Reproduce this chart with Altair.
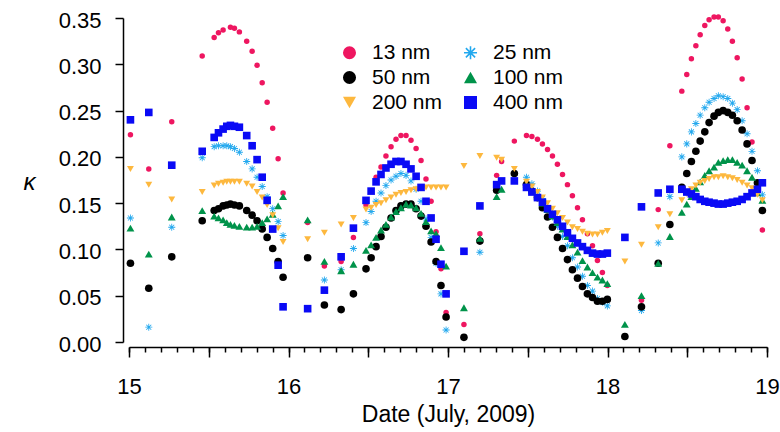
import altair as alt
import pandas as pd

# Measurement times (day of July 2009), shared by all size classes
TIMES = [15.009, 15.124, 15.268, 15.459,
         15.534, 15.561, 15.590, 15.613, 15.636, 15.661, 15.692, 15.738, 15.772, 15.803, 15.835, 15.866, 15.901, 15.935, 15.966,
         16.120, 16.225, 16.330, 16.407,
         16.486, 16.518, 16.549, 16.580, 16.611, 16.643, 16.674, 16.705, 16.737, 16.768, 16.800, 16.831, 16.862, 16.894, 16.925, 16.956, 16.988,
         17.100, 17.200, 17.305, 17.336, 17.416,
         17.492, 17.526, 17.561, 17.592, 17.624, 17.655, 17.686, 17.718, 17.749, 17.780, 17.812, 17.843, 17.874, 17.906, 17.937, 17.968, 17.999,
         18.109, 18.213, 18.318, 18.391,
         18.466, 18.497, 18.526, 18.554, 18.581, 18.610, 18.637, 18.668, 18.695, 18.725, 18.754, 18.783, 18.813, 18.844, 18.875, 18.906, 18.940, 18.971]

K13 = [0.224, 0.187, 0.238, 0.309,
       0.329, 0.334, 0.337, None, 0.340, 0.339, 0.335, 0.325, 0.314, 0.299, 0.280, 0.259, 0.231, 0.198, 0.161,
       0.129, 0.082, 0.087, 0.113,
       0.148, 0.163, 0.178, 0.189, 0.201, 0.211, 0.219, 0.223, 0.223, 0.218, 0.209, 0.196, 0.176, 0.152, 0.119, 0.079, 0.032,
       0.019, 0.117, 0.180, 0.195, 0.217,
       0.223, 0.222, 0.219, 0.214, 0.208, 0.201, 0.192, 0.181, 0.170, 0.158, 0.145, 0.132, 0.117, 0.104, 0.088, 0.075, 0.061,
       None, 0.045, 0.143, 0.212,
       0.271, 0.289, 0.306, 0.320, 0.332, 0.342, 0.348, 0.351, 0.351, 0.347, 0.338, 0.325, 0.307, 0.284, 0.253, 0.216, 0.170, 0.121]

K25 = [0.134, 0.016, 0.124, 0.199,
       0.211, 0.212, 0.212, 0.212, 0.211, 0.209, 0.205, 0.195, 0.187, 0.178, 0.168, 0.157, 0.144, 0.130, 0.115,
       None, 0.067, 0.078, 0.101,
       0.129, 0.141, 0.152, 0.161, 0.169, 0.175, 0.179, 0.182, 0.180, 0.174, 0.165, 0.152, 0.133, 0.113, 0.085, 0.052, 0.013,
       None, 0.097, None, None, None,
       0.178, 0.171, 0.163, 0.155, 0.145, 0.135, 0.125, 0.114, 0.104, 0.091, 0.081, 0.071, 0.061, 0.055, 0.047, 0.043, 0.039,
       None, 0.034, 0.107, 0.157,
       0.200, 0.214, 0.227, 0.236, 0.245, 0.253, 0.259, 0.263, 0.266, 0.265, 0.263, 0.258, 0.251, 0.239, 0.225, 0.206, 0.185, 0.159]

K50 = [0.085, 0.058, 0.092, 0.131,
       0.142, 0.144, 0.147, 0.148, 0.149, 0.148, 0.147, 0.142, 0.137, 0.131, 0.122, 0.113, 0.101, 0.087, 0.070,
       0.091, 0.040, 0.035, 0.052,
       0.079, 0.091, 0.103, 0.114, 0.124, 0.134, 0.142, 0.147, 0.149, 0.149, 0.144, 0.136, 0.125, 0.108, 0.087, 0.061, 0.027,
       0.005, 0.109, 0.164, None, 0.182,
       0.170, 0.163, 0.156, 0.145, 0.135, 0.124, 0.113, 0.101, 0.089, 0.078, 0.069, 0.060, 0.052, 0.048, 0.044, 0.044, 0.046,
       0.006, 0.038, 0.085, 0.127,
       0.167, 0.182, 0.195, 0.206, 0.217, 0.227, 0.237, 0.244, 0.248, 0.250, 0.248, 0.245, 0.239, 0.229, 0.214, 0.196, 0.172, 0.142]

K100 = [0.123, 0.095, 0.135, 0.142,
        0.136, 0.134, 0.132, 0.129, 0.127, 0.126, 0.125, 0.124, 0.124, 0.125, 0.129, 0.133, 0.138, 0.147, 0.157,
        0.132, 0.087, 0.077, 0.084,
        0.099, 0.105, 0.113, 0.121, 0.127, 0.135, 0.141, 0.145, 0.149, 0.148, 0.145, 0.139, 0.130, 0.120, 0.117, 0.102, 0.082,
        0.037, 0.112, 0.157, 0.165, None,
        0.170, 0.164, 0.157, 0.150, 0.143, 0.136, 0.129, 0.122, 0.114, 0.105, 0.097, 0.088, 0.081, 0.075, 0.070, 0.067, 0.063,
        0.019, 0.050, 0.085, 0.114,
        0.140, 0.149, 0.157, 0.166, 0.173, 0.180, 0.185, 0.189, 0.194, 0.196, 0.197, 0.197, 0.194, 0.191, 0.185, 0.178, 0.161, 0.153]

K200 = [0.187, 0.170, 0.154, 0.162,
        0.169, 0.171, 0.172, 0.173, 0.173, 0.173, 0.173, 0.171, 0.168, 0.162, 0.156, 0.148, 0.137, 0.123, 0.108,
        0.111, 0.118, 0.127, 0.134,
        0.143, 0.145, 0.148, 0.150, 0.153, 0.156, 0.159, 0.161, 0.162, 0.164, 0.165, 0.167, 0.167, 0.167, 0.167, 0.167, 0.167,
        0.190, 0.201, 0.199, 0.197, 0.187,
        0.173, 0.168, 0.162, 0.156, 0.150, 0.144, 0.139, 0.134, 0.129, 0.124, 0.122, 0.119, 0.117, 0.116, 0.116, 0.118, 0.120,
        0.087, 0.105, 0.124, 0.138,
        0.153, 0.160, 0.165, 0.169, 0.172, 0.174, 0.176, 0.178, 0.178, 0.179, 0.178, 0.177, 0.175, 0.172, 0.169, 0.166, 0.159, 0.153]

K400 = [0.240, 0.248, 0.191, 0.206,
        0.221, 0.226, 0.230, 0.233, 0.234, 0.233, 0.232, 0.223, 0.212, 0.197, 0.178, 0.153, 0.122, 0.083, 0.038,
        0.036, 0.056, 0.092, 0.123,
        0.153, 0.163, 0.173, 0.181, 0.188, 0.192, 0.195, 0.195, 0.192, 0.187, 0.179, 0.167, 0.152, 0.134, 0.111, 0.084, 0.052,
        0.098, 0.147, 0.170, 0.174, 0.174,
        0.167, 0.162, 0.156, 0.151, 0.144, 0.138, 0.132, 0.125, 0.118, 0.112, 0.107, 0.103, 0.099, 0.096, 0.095, 0.095, 0.096,
        0.113, 0.146, 0.161, 0.165,
        0.165, 0.162, 0.160, 0.157, 0.154, 0.152, 0.151, 0.150, 0.149, 0.149, 0.150, 0.151, 0.152, 0.154, 0.157, 0.161, 0.165, 0.172]

# Drawing order (bottom to top)
SERIES = ["13 nm", "25 nm", "50 nm", "100 nm", "200 nm", "400 nm"]
VALUES = [K13, K25, K50, K100, K200, K400]
COLORS = ["#EE1660", "#22A8EE", "#000000", "#00934A", "#FDB83E", "#0A0AF5"]
STAR = ("M-1,-0.12L1,-0.12L1,0.12L-1,0.12Z"
        "M-0.12,-1L0.12,-1L0.12,1L-0.12,1Z"
        "M-0.622,-0.792L0.792,0.622L0.622,0.792L-0.792,-0.622Z"
        "M-0.792,0.622L0.622,-0.792L0.792,-0.622L-0.622,0.792Z")
SHAPES = ["circle", STAR, "circle", "triangle-up", "triangle-down", "square"]
SIZES = [30, 50, 58, 62, 48, 58]

# Legend order (legend fills columns first)
LEGEND_ORDER = ["13 nm", "50 nm", "200 nm", "25 nm", "100 nm", "400 nm"]
LEGEND_TEXT = {"13 nm": "13 nm", "50 nm": "\u00a050 nm", "200 nm": "\u00a0200 nm",
               "25 nm": "\u200225 nm", "100 nm": "\u2002100 nm", "400 nm": "\u2002400 nm"}

MAJOR_TICKS = [15, 15.5, 16, 16.5, 17, 17.5, 18, 18.5, 19]
MINOR_TICKS = [round(15 + i * 0.1, 1) for i in range(41)]
Y_TICKS = [0, 0.05, 0.10, 0.15, 0.20, 0.25, 0.30, 0.35]

rows = []
for name, vals in zip(SERIES, VALUES):
    assert len(vals) == len(TIMES), name
    for t, v in zip(TIMES, vals):
        if v is not None:
            rows.append({"date": t, "kappa": v, "series": name})
df = pd.DataFrame(rows)

label_expr = " : ".join(
    [f"datum.label == '{k}' ? '{v}'" for k, v in LEGEND_TEXT.items()]
) + " : datum.label"

FONT = "Liberation Sans"
legend = alt.Legend(
    title=None, orient="none", legendX=210, legendY=24, columns=2,
    symbolSize=170, labelFontSize=21, labelFont=FONT, labelColor="black",
    rowPadding=3, columnPadding=17, labelOffset=12, padding=0,
    labelExpr=label_expr, symbolStrokeWidth=0, symbolOpacity=1,
)

xscale = alt.Scale(domain=[15, 19], nice=False, zero=False)
yscale = alt.Scale(domain=[0, 0.35], nice=False, zero=False)
color_scale = alt.Scale(domain=LEGEND_ORDER,
                        range=[COLORS[SERIES.index(s)] for s in LEGEND_ORDER])
shape_scale = alt.Scale(domain=LEGEND_ORDER,
                        range=[SHAPES[SERIES.index(s)] for s in LEGEND_ORDER])

major_axis = alt.Axis(values=MAJOR_TICKS, tickSize=10, orient="bottom", offset=5,
                      labelExpr="datum.value % 1 == 0 ? format(datum.value, 'd') : ''",
                      labelFontSize=22, labelPadding=19, labelOverlap=False, labelFlush=False,
                      title="Date (July, 2009)", titleFontSize=23, titlePadding=6,
                      titleFontWeight="normal")
y_axis = alt.Axis(values=Y_TICKS, format=".2f", tickSize=8, offset=6,
                  labelFontSize=22, labelPadding=14, labelOffset=2, labelFlush=False,
                  title="κ", titleFontSize=24, titleFontStyle="italic",
                  titleFontWeight="normal", titleAngle=0, titleAlign="center",
                  titleBaseline="middle", titleX=-94, titleY=164)

base = alt.Chart(df)
layers = []
for i, name in enumerate(SERIES):
    layers.append(
        base.transform_filter(alt.datum.series == name)
        .mark_point(filled=True, opacity=1, strokeWidth=0, size=SIZES[i])
        .encode(
            x=alt.X("date:Q", scale=xscale, axis=major_axis if i == 0 else None),
            y=alt.Y("kappa:Q", scale=yscale, axis=y_axis),
            color=alt.Color("series:N", scale=color_scale, legend=legend),
            shape=alt.Shape("series:N", scale=shape_scale, legend=legend),
        )
    )

minor = base.mark_point(opacity=0).encode(
    x=alt.X("date:Q", scale=xscale,
            axis=alt.Axis(values=MINOR_TICKS, tickSize=5, orient="bottom", offset=5,
                          labels=False, domain=False, title=None, tickOpacity=1,
                          tickColor="black", tickWidth=1.5)),
    y=alt.Y("kappa:Q", scale=yscale, axis=y_axis),
)
layers.append(minor)

chart = alt.layer(*layers).resolve_axis(x="independent").properties(
    width=638, height=324,
    padding={"left": 129, "top": 18, "right": 13, "bottom": 90},
    autosize="none",
).configure(font=FONT).configure_view(stroke=None).configure_axis(
    labelFont=FONT, titleFont=FONT, labelColor="black", titleColor="black",
    domainColor="black", tickColor="black", domainWidth=1.5, tickWidth=1.5, grid=False,
)

chart.save("out.html", embed_options={"renderer": "svg", "actions": False})
